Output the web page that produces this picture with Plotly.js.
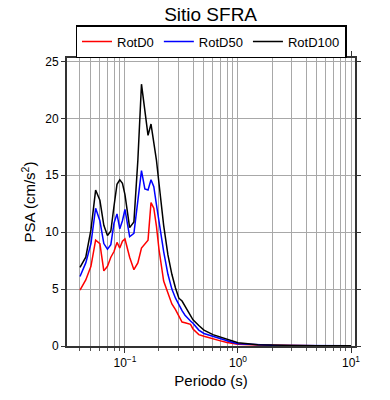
<!DOCTYPE html>
<html><head><meta charset="utf-8">
<script src="https://cdn.plot.ly/plotly-3.0.1.min.js"></script>
<style>body{margin:0;background:#fff}#c{width:390px;height:400px}</style>
</head><body><div id="c"></div>
<script>
const periods = [0.04,0.045,0.05,0.055,0.06,0.065,0.07,0.075,0.08,0.085,0.09,0.095,0.1,0.11,0.12,0.13,0.14,0.15,0.16,0.17,0.18,0.19,0.2,0.22,0.24,0.26,0.28,0.3,0.32,0.34,0.36,0.38,0.4,0.45,0.5,0.6,0.7,0.8,0.9,1.0,1.5,2,3,5,10];
const rotD0 = [4.9,5.8,7.0,9.3,9.0,6.6,7.0,7.8,8.3,9.1,8.6,9.2,9.4,7.8,6.7,7.3,8.6,9.0,9.3,12.6,12.1,10.5,8.5,5.7,4.6,3.7,3.2,2.6,2.1,2.05,2.0,1.9,1.5,1.0,0.85,0.6,0.45,0.3,0.2,0.15,0.08,0.05,0.03,0.02,0.01];
const rotD50 = [6.1,7.3,9.0,12.1,11.0,9.0,8.5,8.9,10.8,11.6,10.3,11.0,12.0,9.6,9.9,12.5,15.4,13.8,13.7,14.6,14.0,12.4,10.9,8.3,6.3,5.0,4.2,3.6,3.1,2.7,2.4,2.2,2.0,1.4,1.1,0.85,0.6,0.4,0.3,0.2,0.1,0.07,0.04,0.03,0.02];
const rotD100 = [6.9,7.8,10.2,13.7,12.8,10.6,9.7,10.1,12.3,14.2,14.6,14.3,13.3,10.4,10.9,16.3,23.0,20.8,18.5,19.5,17.8,16.3,14.3,10.6,8.0,6.3,5.1,4.2,3.95,3.5,3.0,2.6,2.3,1.8,1.4,1.0,0.78,0.55,0.4,0.28,0.12,0.08,0.05,0.03,0.02];
const seriesNames = ['RotD0','RotD50','RotD100'];
const seriesColors = ['#ff0000','#0000ff','#000000'];
const majorTicks = [0.1,1,10];
const majorLabels = ['10<sup>−1</sup>','10<sup>0</sup>','10<sup>1</sup>'];
const minorTicks = [0.03,0.04,0.05,0.06,0.07,0.08,0.09,0.2,0.3,0.4,0.5,0.6,0.7,0.8,0.9,2,3,4,5,6,7,8,9];
const yTicks = [0,5,10,15,20,25];

const vals = [rotD0, rotD50, rotD100];
const traces = vals.map((v,i)=>({
  x: periods, y: v, type:'scatter', mode:'lines', name: seriesNames[i],
  line:{color:seriesColors[i], width:1.5}
}));
const font = {family:'Liberation Sans, Arial, sans-serif', color:'#000'};
const layout = {
  width:390, height:400,
  margin:{l:67,r:35,t:58,b:54},
  paper_bgcolor:'#fff', plot_bgcolor:'#fff',
  font:Object.assign({size:12}, font),
  title:{text:'Sitio SFRA', x:0.54, xanchor:'center', y:0.965, yanchor:'middle', font:Object.assign({size:19}, font)},
  showlegend:true,
  legend:{orientation:'h', x:0.5, xanchor:'center', y:1.0, yanchor:'bottom', yref:'paper',
    bordercolor:'#000', borderwidth:1.5, font:Object.assign({size:13}, font),
    tracegroupgap:0, itemwidth:30},
  xaxis:{type:'log', range:[Math.log10(0.0307), Math.log10(10.85)],
    tickmode:'array', tickvals:majorTicks, ticktext:majorLabels,
    ticks:'outside', ticklen:5, tickwidth:1, tickcolor:'#333',
    showgrid:true, gridcolor:'#a8a8a8', gridwidth:1,
    minor:{tickmode:'array', tickvals:minorTicks, ticks:'outside', ticklen:3, tickcolor:'#555', showgrid:true, gridcolor:'#a8a8a8', gridwidth:1},
    showline:true, linecolor:'#333', linewidth:2, mirror:'ticks', zeroline:false,
    tickfont:Object.assign({size:12}, font),
    title:{text:'Periodo (s)', font:Object.assign({size:15}, font), standoff:6}
  },
  yaxis:{range:[0,25.3], tickmode:'array', tickvals:yTicks,
    ticks:'outside', ticklen:4, tickwidth:1, tickcolor:'#333',
    showgrid:true, gridcolor:'#a8a8a8', gridwidth:1,
    showline:true, linecolor:'#333', linewidth:2, mirror:'ticks', zeroline:false,
    tickfont:Object.assign({size:12}, font),
    title:{text:'PSA (cm/s<sup>2</sup>)', font:Object.assign({size:15}, font), standoff:6}
  }
};
Plotly.newPlot('c', traces, layout, {displayModeBar:false, staticPlot:true});
</script></body></html>
